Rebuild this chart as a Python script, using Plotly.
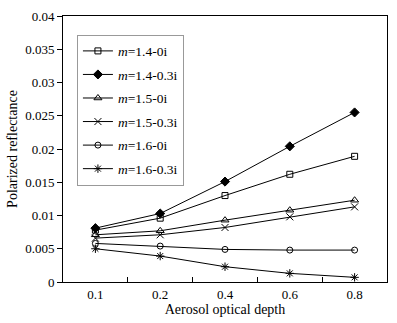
import plotly.graph_objects as go

x_labels = ["0.1", "0.2", "0.4", "0.6", "0.8"]
s_14_0 = [0.0078, 0.0096, 0.0130, 0.0162, 0.0189]
s_14_03 = [0.0081, 0.0103, 0.0151, 0.0204, 0.0255]
s_15_0 = [0.0071, 0.0077, 0.0093, 0.0108, 0.0123]
s_15_03 = [0.0066, 0.0071, 0.0082, 0.0098, 0.0113]
s_16_0 = [0.0058, 0.0054, 0.0049, 0.0048, 0.0048]
s_16_03 = [0.0050, 0.0039, 0.0023, 0.0013, 0.0007]
names = ["1.4-0i", "1.4-0.3i", "1.5-0i", "1.5-0.3i", "1.6-0i", "1.6-0.3i"]
y_ticks = [0, 0.005, 0.01, 0.015, 0.02, 0.025, 0.03, 0.035, 0.04]
y_ticktext = ["0", "0.005", "0.01", "0.015", "0.02", "0.025", "0.03", "0.035", "0.04"]

series = [s_14_0, s_14_03, s_15_0, s_15_03, s_16_0, s_16_03]
symbols = ["square-open", "diamond", "triangle-up-open", "x-thin-open", "circle-open", "asterisk-open"]
sizes = [6, 7, 7, 7, 6, 7]

fig = go.Figure()
for i, (ys, nm) in enumerate(zip(series, names)):
    fig.add_trace(go.Scatter(
        x=x_labels, y=ys, mode="lines+markers",
        name="<i>m</i>=" + nm, legendgroup=str(i),
        line=dict(color="black", width=1),
        marker=dict(symbol=symbols[i], size=sizes[i], color="black",
                    line=dict(color="black", width=1)),
    ))

font = "Liberation Serif, Times New Roman, serif"
fig.update_layout(
    width=397, height=323,
    margin=dict(l=63, r=9, t=12, b=41),
    paper_bgcolor="white", plot_bgcolor="white",
    font=dict(family=font, size=13, color="black"),
    showlegend=True,
    legend=dict(x=0.043, y=0.93, xanchor="left", yanchor="top",
                bordercolor="#999999", borderwidth=1, bgcolor="white",
                font=dict(size=13.5, family=font), tracegroupgap=3,
                itemwidth=30),
    xaxis=dict(type="category", range=[-0.5, 4.5], tickson="boundaries",
               ticks="inside", ticklen=5, tickcolor="black",
               showline=True, linecolor="black", linewidth=1, mirror=True,
               showgrid=False, zeroline=False,
               title=dict(text="Aerosol optical depth", font=dict(size=14), standoff=2),
               tickfont=dict(size=13)),
    yaxis=dict(range=[0, 0.04], tickvals=y_ticks, ticktext=y_ticktext,
               ticks="outside", ticklen=5, tickcolor="black",
               showline=True, linecolor="black", linewidth=1, mirror=True,
               showgrid=False, zeroline=False,
               title=dict(text="Polarized reflectance", font=dict(size=14), standoff=4),
               tickfont=dict(size=13)),
)
fig.write_html("out.html")
